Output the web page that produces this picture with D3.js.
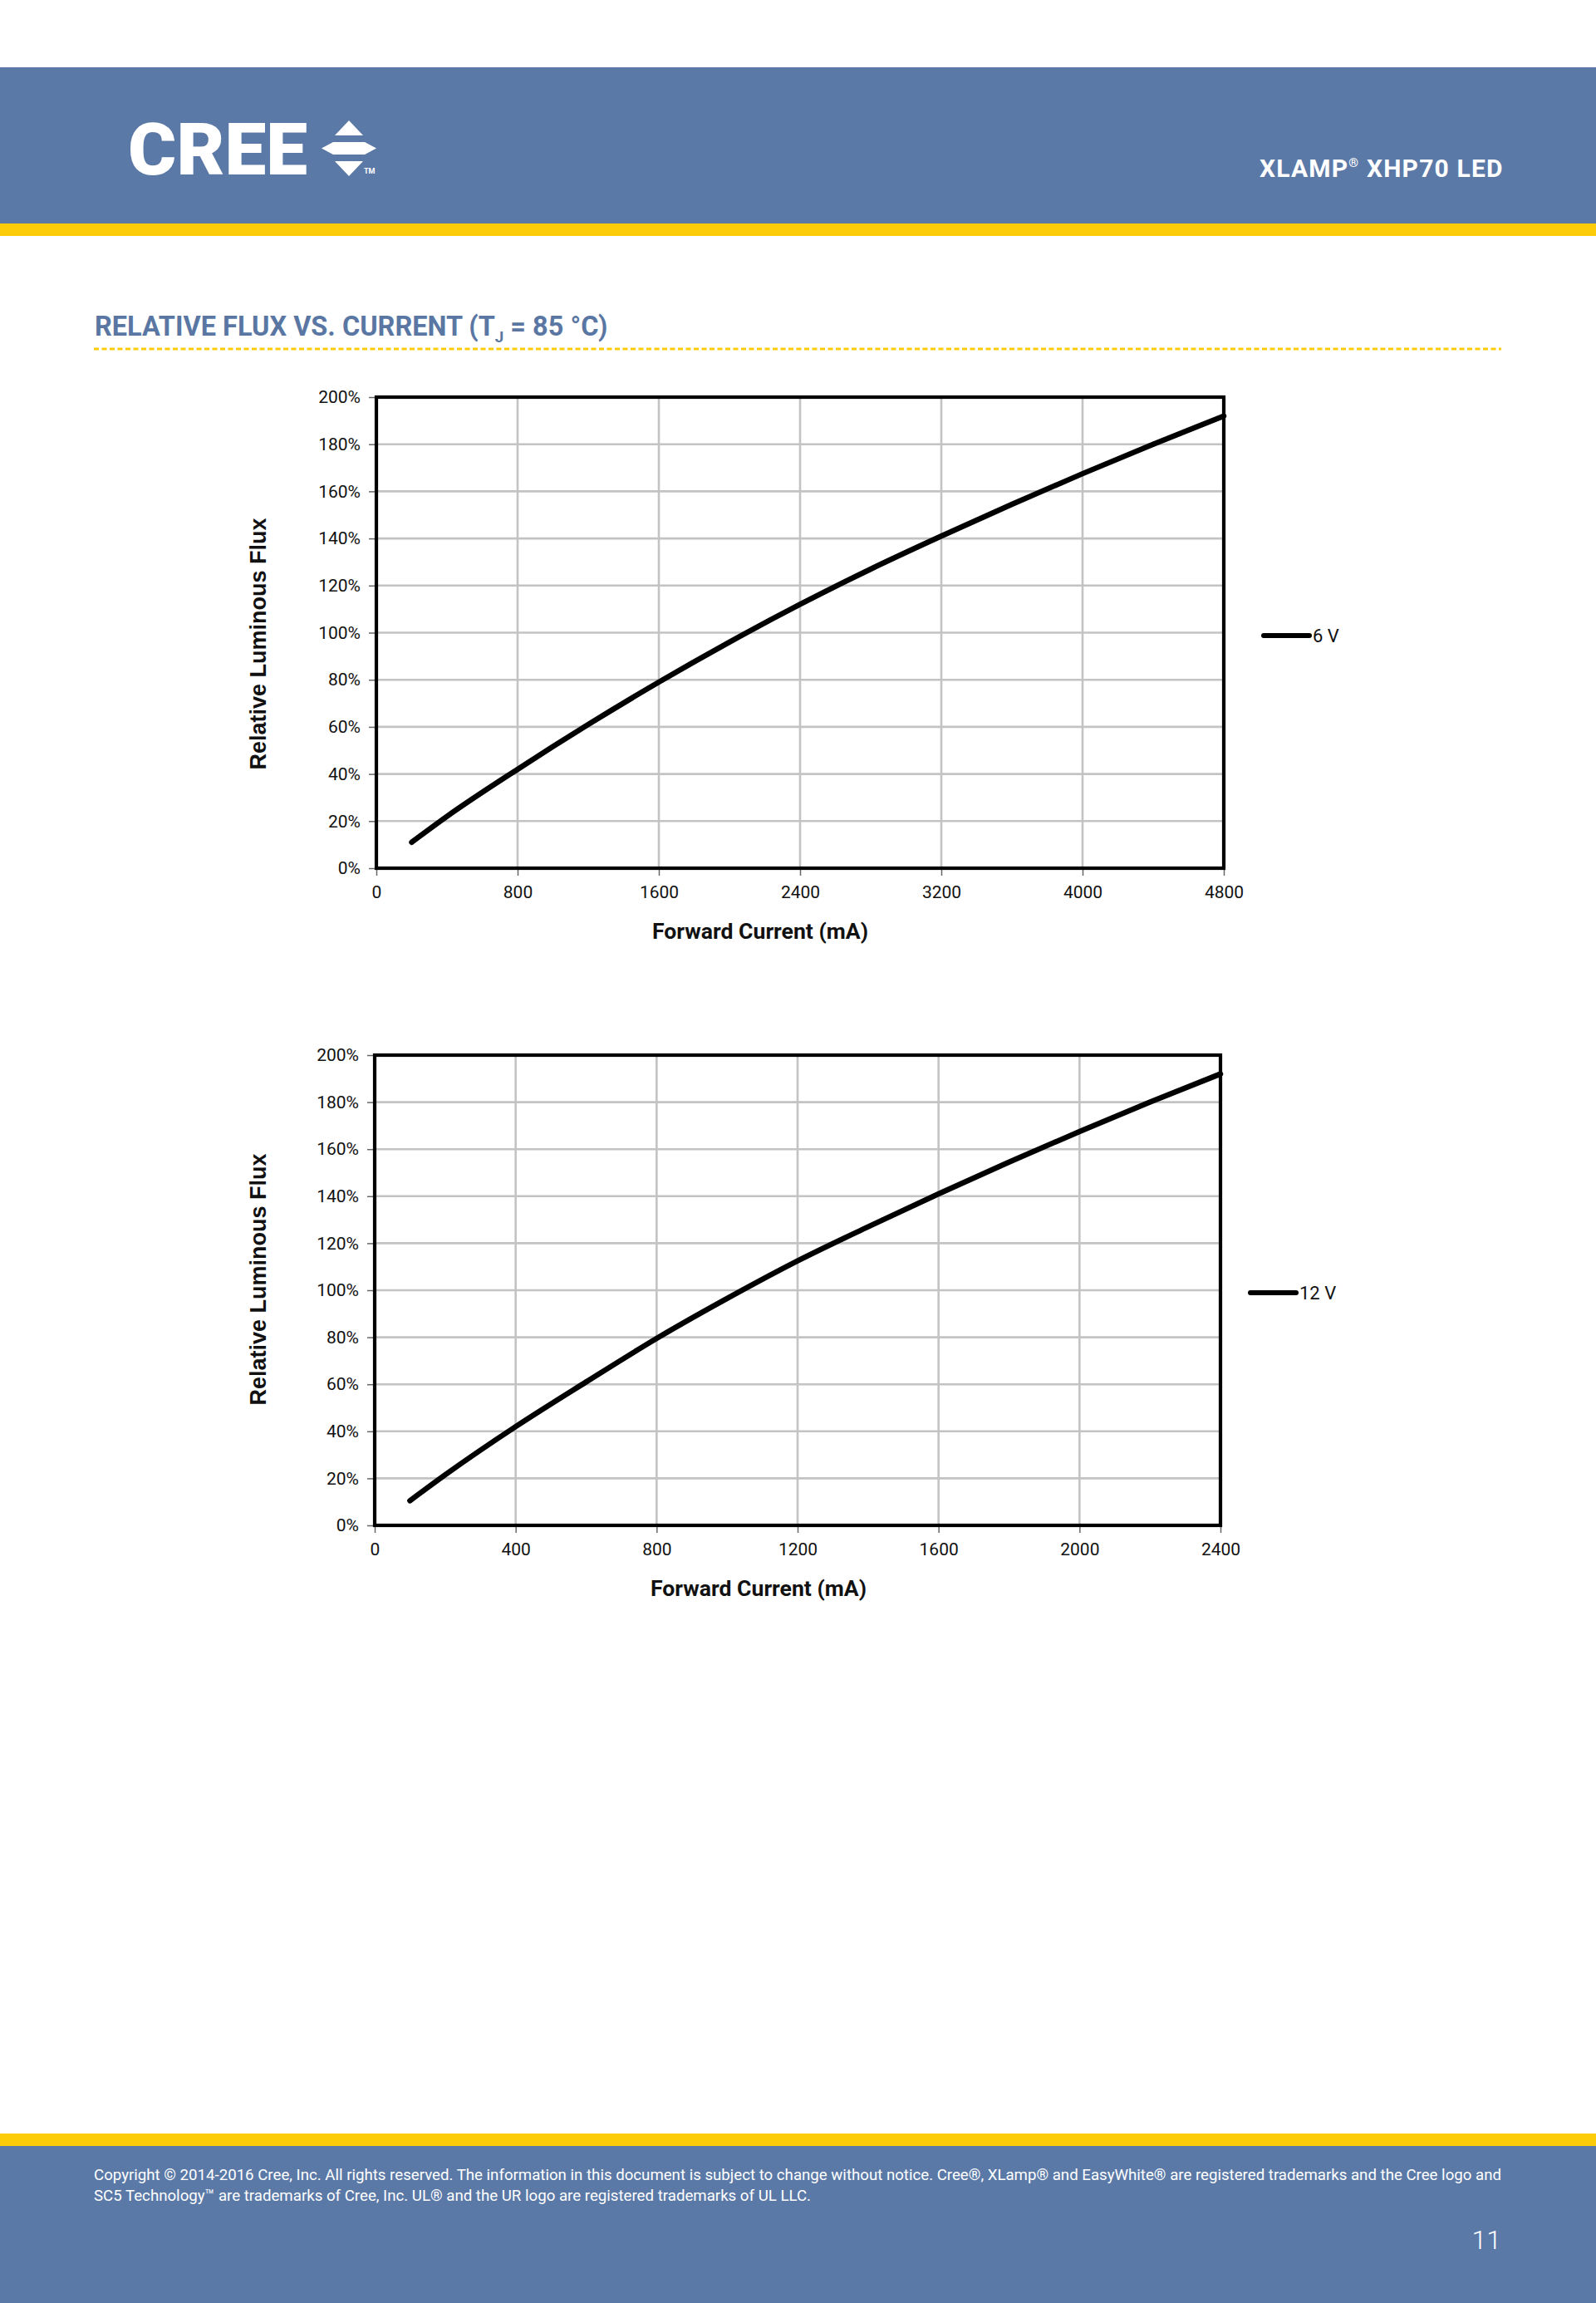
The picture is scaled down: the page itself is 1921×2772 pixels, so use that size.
<!DOCTYPE html>
<html>
<head>
<meta charset="utf-8">
<script src="https://cdn.jsdelivr.net/npm/d3@7/dist/d3.min.js"></script>
<style>
  html, body { margin: 0; padding: 0; background: #fff; }
  svg { display: block; }
</style>
</head>
<body>
<script>
// ---- data ----
const current6V = [200, 400, 800, 1200, 1600, 2000, 2400, 2800, 3200, 3600, 4000, 4400, 4800];
const flux6V    = [11, 22, 42, 61, 79, 96, 112, 127, 141, 154.5, 167.5, 180, 192];
const current12V = [100, 200, 400, 600, 800, 1000, 1200, 1400, 1600, 1800, 2000, 2200, 2400];
const flux12V    = [10.5, 21.5, 42, 61, 79.5, 96.5, 112.5, 127, 141, 154.5, 167.5, 180, 192];
const xTicks6V  = [0, 800, 1600, 2400, 3200, 4000, 4800];
const xTicks12V = [0, 400, 800, 1200, 1600, 2000, 2400];
const yTicks = [0, 20, 40, 60, 80, 100, 120, 140, 160, 180, 200];
const seriesNames = ["6 V", "12 V"];
const pageTitle = "RELATIVE FLUX VS. CURRENT (T";
const productName = "XLAMP";
const footerLines = [
  "Copyright © 2014-2016 Cree, Inc. All rights reserved. The information in this document is subject to change without notice. Cree®, XLamp® and EasyWhite® are registered trademarks and the Cree logo and",
  "SC5 Technology™ are trademarks of Cree, Inc. UL® and the UR logo are registered trademarks of UL LLC."
];

const W = 1921, H = 2772;
const BLUE = "#5b79a7", YELLOW = "#fccc0a", TITLE = "#5a77a4";

const svg = d3.select("body").append("svg").attr("width", W).attr("height", H);

// ---- header ----
svg.append("rect").attr("x", 0).attr("y", 81).attr("width", W).attr("height", 188).attr("fill", BLUE);
svg.append("rect").attr("x", 0).attr("y", 269).attr("width", W).attr("height", 15).attr("fill", YELLOW);

// CREE logo
svg.append("text").attr("x", 154).attr("y", 210)
  .attr("font-family", "Roboto").attr("font-weight", 900).attr("font-size", 88)
  .attr("fill", "#fff").attr("textLength", 216).attr("lengthAdjust", "spacingAndGlyphs")
  .text("CREE");
const logo = svg.append("g").attr("fill", "#fff");
logo.append("path").attr("d", "M420,145 L437,163 L403,163 Z");
logo.append("path").attr("d", "M387,178.5 L401,171 L439,171 L453,178.5 L439,186 L401,186 Z");
logo.append("path").attr("d", "M403,194 L437,194 L420,212 Z");
svg.append("text").attr("x", 438).attr("y", 209).attr("font-family", "Roboto").attr("font-weight", 700)
  .attr("font-size", 9).attr("fill", "#fff").text("TM");

// product name
const prod = svg.append("text").attr("x", 1516).attr("y", 213)
  .attr("font-family", "Roboto").attr("font-weight", 700).attr("font-size", 30)
  .attr("fill", "#fff").attr("letter-spacing", 1.2);
prod.append("tspan").text(productName);
prod.append("tspan").attr("font-size", 15).attr("dy", -12).text("®");
prod.append("tspan").attr("dy", 12).text(" XHP70 LED");

// page title
const tt = svg.append("text").attr("x", 114).attr("y", 404)
  .attr("font-family", "Roboto").attr("font-weight", 700).attr("font-size", 33)
  .attr("fill", TITLE).attr("transform", "translate(114,0) scale(0.985,1) translate(-114,0)");
tt.append("tspan").text(pageTitle);
tt.append("tspan").attr("font-size", 19).attr("dy", 8).text("J");
tt.append("tspan").attr("dy", -8).text(" = 85 °C)");

svg.append("line").attr("x1", 113).attr("x2", 1807).attr("y1", 420).attr("y2", 420)
  .attr("stroke", YELLOW).attr("stroke-width", 3).attr("stroke-dasharray", "6,3.5");

// ---- charts ----
function drawChart(cfg) {
  const { left, right, top, bottom, xMax, xTicks, xs, ys, name, legX, legY, xTitleX, yTitleY } = cfg;
  const x = d3.scaleLinear().domain([0, xMax]).range([left, right]);
  const y = d3.scaleLinear().domain([0, 200]).range([bottom, top]);
  const g = svg.append("g");

  // grid
  g.append("g").selectAll("line").data(yTicks.filter(d => d > 0 && d < 200)).join("line")
    .attr("x1", left).attr("x2", right).attr("y1", d => y(d)).attr("y2", d => y(d))
    .attr("stroke", "#c3c3c3").attr("stroke-width", 2.6);
  g.append("g").selectAll("line").data(xTicks.filter(d => d > 0 && d < xMax)).join("line")
    .attr("y1", top).attr("y2", bottom).attr("x1", d => x(d)).attr("x2", d => x(d))
    .attr("stroke", "#c3c3c3").attr("stroke-width", 2.6);

  // axes
  const yAxis = d3.axisLeft(y).tickValues(yTicks).tickFormat(d => d + "%").tickSize(9).tickPadding(10);
  const ya = g.append("g").attr("transform", `translate(${left},0)`).call(yAxis);
  const xAxis = d3.axisBottom(x).tickValues(xTicks).tickFormat(d3.format("d")).tickSize(9).tickPadding(12);
  const xa = g.append("g").attr("transform", `translate(0,${bottom})`).call(xAxis);
  [ya, xa].forEach(a => {
    a.select(".domain").remove();
    a.selectAll(".tick line").attr("stroke", "#666").attr("stroke-width", 1.5);
    a.selectAll(".tick text").attr("font-family", "Roboto").attr("font-size", 21).attr("fill", "#111");
  });

  // frame
  g.append("rect").attr("x", left).attr("y", top).attr("width", right - left).attr("height", bottom - top)
    .attr("fill", "none").attr("stroke", "#000").attr("stroke-width", 4.2);

  // curve
  const pts = xs.map((v, i) => [v, ys[i]]);
  g.append("path").datum(pts)
    .attr("d", d3.line().x(d => x(d[0])).y(d => y(d[1])).curve(d3.curveMonotoneX))
    .attr("fill", "none").attr("stroke", "#000").attr("stroke-width", 6.5)
    .attr("stroke-linecap", "round").attr("stroke-linejoin", "round");

  // axis titles
  g.append("text").attr("x", xTitleX).attr("y", bottom + 85).attr("text-anchor", "middle")
    .attr("font-family", "Roboto").attr("font-weight", 700).attr("font-size", 26)
    .attr("fill", "#111").attr("textLength", 260).attr("lengthAdjust", "spacingAndGlyphs")
    .text("Forward Current (mA)");
  g.append("text").attr("transform", `translate(320,${yTitleY}) rotate(-90)`).attr("text-anchor", "middle")
    .attr("font-family", "Liberation Sans, Arial").attr("font-weight", 700).attr("font-size", 27)
    .attr("fill", "#111").text("Relative Luminous Flux");

  // legend
  g.append("line").attr("x1", legX).attr("x2", legX + 55).attr("y1", legY).attr("y2", legY)
    .attr("stroke", "#000").attr("stroke-width", 6).attr("stroke-linecap", "round");
  g.append("text").attr("x", legX + 59).attr("y", legY + 8)
    .attr("font-family", "Roboto").attr("font-size", 22).attr("fill", "#111").text(name);
}

drawChart({ left: 453, right: 1473, top: 478, bottom: 1045, xMax: 4800, xTicks: xTicks6V,
  xs: current6V, ys: flux6V, name: seriesNames[0], legX: 1521, legY: 765, xTitleX: 915, yTitleY: 775 });
drawChart({ left: 451, right: 1469, top: 1270, bottom: 1836, xMax: 2400, xTicks: xTicks12V,
  xs: current12V, ys: flux12V, name: seriesNames[1], legX: 1505, legY: 1556, xTitleX: 913, yTitleY: 1540 });

// ---- footer ----
svg.append("rect").attr("x", 0).attr("y", 2568).attr("width", W).attr("height", 15).attr("fill", YELLOW);
svg.append("rect").attr("x", 0).attr("y", 2583).attr("width", W).attr("height", H - 2583).attr("fill", BLUE);
svg.append("text").attr("x", 113).attr("y", 2624).attr("font-family", "Roboto").attr("font-size", 19)
  .attr("fill", "#fff").attr("textLength", 1694).attr("lengthAdjust", "spacingAndGlyphs").text(footerLines[0]);
svg.append("text").attr("x", 113).attr("y", 2649).attr("font-family", "Roboto").attr("font-size", 19)
  .attr("fill", "#fff").attr("textLength", 863).attr("lengthAdjust", "spacingAndGlyphs").text(footerLines[1]);
svg.append("text").attr("x", 1807).attr("y", 2707).attr("text-anchor", "end").attr("font-family", "Roboto")
  .attr("font-weight", 300).attr("font-size", 32).attr("fill", "#fff").text("11");
</script>
</body>
</html>
